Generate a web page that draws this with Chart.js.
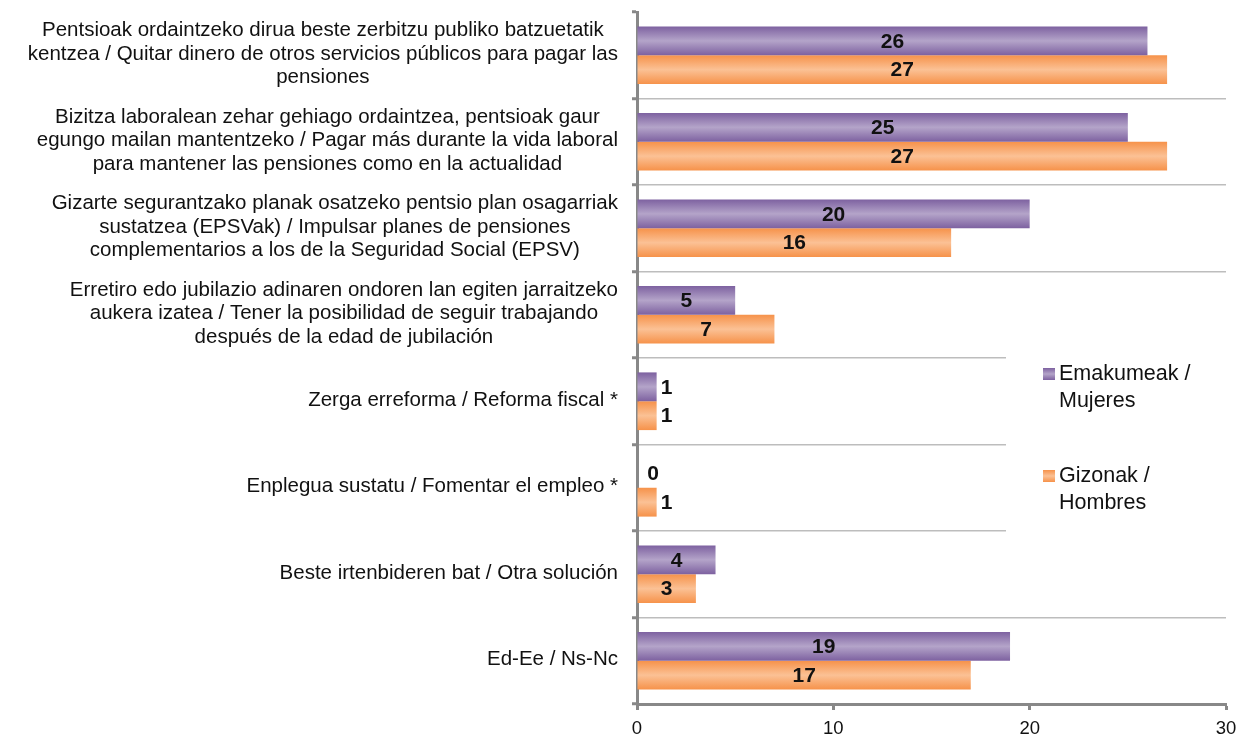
<!DOCTYPE html>
<html>
<head>
<meta charset="utf-8">
<script src="https://cdn.jsdelivr.net/npm/chart.js@4.4.0/dist/chart.umd.min.js"></script>
<style>
html,body{margin:0;padding:0;background:#fff;}
canvas{display:block;}
</style>
</head>
<body>
<canvas id="c" width="1240" height="735"></canvas>
<script>
const categories = [
  ["Pentsioak ordaintzeko dirua beste zerbitzu publiko batzuetatik", "kentzea / Quitar dinero de otros servicios públicos para pagar las", "pensiones"],
  ["Bizitza laboralean zehar gehiago ordaintzea, pentsioak gaur", "egungo mailan mantentzeko / Pagar más durante la vida laboral", "para mantener las pensiones como en la actualidad"],
  ["Gizarte segurantzako planak osatzeko pentsio plan osagarriak", "sustatzea (EPSVak) / Impulsar planes de pensiones", "complementarios a los de la Seguridad Social (EPSV)"],
  ["Erretiro edo jubilazio adinaren ondoren lan egiten jarraitzeko", "aukera izatea / Tener la posibilidad de seguir trabajando", "después de la edad de jubilación"],
  ["Zerga erreforma / Reforma fiscal *"],
  ["Enplegua sustatu / Fomentar el empleo *"],
  ["Beste irtenbideren bat / Otra solución"],
  ["Ed-Ee / Ns-Nc"]
];
const seriesNames = [["Emakumeak /", "Mujeres"], ["Gizonak /", "Hombres"]];
const women = [26, 25, 20, 5, 1, 0, 4, 19];
const men = [27, 27, 16, 7, 1, 1, 3, 17];
const xTicks = [0, 10, 20, 30];

const FONT = "'Liberation Sans', Arial, sans-serif";
const CAT_PCT = 0.667;
const PURPLE = ['#7d61a0', '#b4a4c9'];
const ORANGE = ['#f6924a', '#fbc195'];

function gradFill(cols) {
  return (ctx) => {
    const chart = ctx.chart;
    const ys = chart.scales && chart.scales.y;
    if (!ys || !chart.chartArea || ctx.dataIndex === undefined) return cols[0];
    const center = ys.getPixelForValue(ctx.dataIndex);
    const cw = (ys.bottom - ys.top) / categories.length;
    const th = cw * CAT_PCT / 2;
    const top = ctx.datasetIndex === 0 ? center - th : center;
    const g = chart.ctx.createLinearGradient(0, top, 0, top + th);
    g.addColorStop(0, cols[0]);
    g.addColorStop(0.5, cols[1]);
    g.addColorStop(1, cols[0]);
    return g;
  };
}

const customDraw = {
  id: 'customDraw',
  afterDatasetsDraw(chart) {
    const c = chart.ctx;
    // data labels
    c.save();
    c.font = "bold 21px " + FONT;
    c.fillStyle = '#111';
    c.textAlign = 'center';
    c.textBaseline = 'middle';
    chart.data.datasets.forEach((ds, di) => {
      const meta = chart.getDatasetMeta(di);
      meta.data.forEach((el, i) => {
        const v = ds.data[i];
        let x;
        if (v >= 2) x = (el.x + el.base) / 2;
        else x = Math.max(el.x + 10, el.base + 16);
        c.fillText(String(v), x, el.y + 1);
      });
    });
    c.restore();

    // category labels
    const ys = chart.scales.y;
    c.save();
    c.font = "20.5px " + FONT;
    c.fillStyle = '#111';
    c.textAlign = 'center';
    c.textBaseline = 'middle';
    const right = 618, lh = 23.5;
    categories.forEach((lines, i) => {
      const cy = ys.getPixelForValue(i) - 1;
      let maxW = 0;
      lines.forEach(l => { maxW = Math.max(maxW, c.measureText(l).width); });
      const cx = right - maxW / 2;
      const y0 = cy - (lines.length - 1) * lh / 2;
      lines.forEach((l, k) => c.fillText(l, cx, y0 + k * lh));
    });
    c.restore();

    // legend
    c.save();
    c.fillStyle = '#fff';
    c.fillRect(1006, 352, 230, 186);
    c.font = "21.5px " + FONT;
    c.fillStyle = '#111';
    c.textAlign = 'left';
    c.textBaseline = 'middle';
    const legY = [374, 476];
    const cols = [PURPLE, ORANGE];
    legY.forEach((y, k) => {
      const g = c.createLinearGradient(0, y - 6, 0, y + 6);
      g.addColorStop(0, cols[k][0]); g.addColorStop(0.5, cols[k][1]); g.addColorStop(1, cols[k][0]);
      c.fillStyle = g;
      c.fillRect(1043, y - 6, 12, 12);
      c.fillStyle = '#111';
      c.fillText(seriesNames[k][0], 1059, y);
      c.fillText(seriesNames[k][1], 1059, y + 27);
    });
    c.restore();
  }
};

new Chart(document.getElementById('c'), {
  type: 'bar',
  data: {
    labels: categories.map(l => l.join(' ')),
    datasets: [
      { label: seriesNames[0].join(' '), data: women, backgroundColor: gradFill(PURPLE), borderWidth: 0 },
      { label: seriesNames[1].join(' '), data: men, backgroundColor: gradFill(ORANGE), borderWidth: 0 }
    ]
  },
  options: {
    indexAxis: 'y',
    responsive: false,
    animation: false,
    devicePixelRatio: 1,
    layout: { padding: { top: 12, right: 14, left: 0, bottom: 0 } },
    datasets: { bar: { categoryPercentage: CAT_PCT, barPercentage: 1 } },
    plugins: { legend: { display: false }, tooltip: { enabled: false } },
    scales: {
      x: {
        min: 0, max: 30,
        afterBuildTicks: (s) => { s.ticks = xTicks.map(v => ({ value: v })); },
        afterFit: (s) => { s.height = 31; s.paddingLeft = 0; s.paddingRight = 0; },
        ticks: { font: { family: FONT, size: 18.5 }, color: '#111', padding: 8, maxRotation: 0 },
        grid: { drawOnChartArea: false, tickLength: 6, tickColor: '#888', tickWidth: 3 },
        border: { display: true, color: '#888', width: 3 }
      },
      y: {
        offset: true,
        afterFit: (s) => { s.width = 637; s.paddingTop = 0; s.paddingBottom = 0; },
        ticks: { callback: () => '', padding: 0 },
        grid: {
          offset: true,
          color: (ctx) => (ctx.index === 0 ? 'rgba(0,0,0,0)' : '#bdbdbd'),
          lineWidth: 1.5,
          tickLength: 5,
          tickColor: '#888',
          tickWidth: 3
        },
        border: { display: true, color: '#888', width: 3 }
      }
    }
  },
  plugins: [customDraw]
});
</script>
</body>
</html>
